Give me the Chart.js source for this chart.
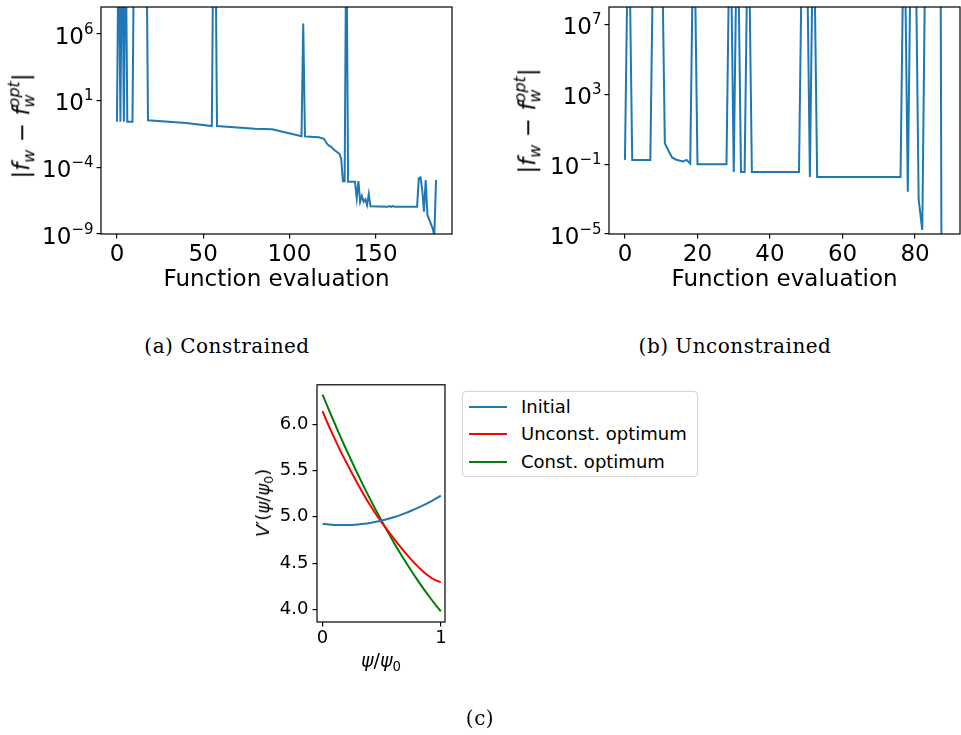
<!DOCTYPE html>
<html>
<head>
<meta charset="utf-8">
<script src="https://cdn.jsdelivr.net/npm/chart.js@4.4.1/dist/chart.umd.min.js"></script>
<style>
  body { margin: 0; width: 961px; height: 735px; background: #fff; position: relative; overflow: hidden;
         font-family: 'DejaVu Sans', sans-serif; color: #000; }
  canvas { position: absolute; }
  .cap { position: absolute; font-family: 'DejaVu Serif', serif; font-size: 20px; letter-spacing: 0.5px;
         white-space: nowrap; transform: translate(-50%, -50%); }
  .lab { position: absolute; white-space: nowrap; transform: translate(-50%, -50%); line-height: 1; }
  .rot { transform: translate(-50%, -50%) rotate(-90deg); }
  .lab i { font-style: oblique; }
  .lo { font-size: 0.7em; vertical-align: -0.35em; }
  .hi { font-size: 0.7em; vertical-align: 0.6em; margin-left: -0.82em; }
  #legend { position: absolute; left: 462px; top: 391px; width: 236px; height: 86px; box-sizing: border-box;
            border: 1px solid #d4d4d4; border-radius: 4px; background: #fff; }
  #legend .row { position: absolute; left: 0; height: 22px; line-height: 22px; font-size: 18px; white-space: nowrap; }
  #legend .sw { position: absolute; left: 6px; top: 10px; width: 38px; height: 2px; }
  #legend .tx { position: absolute; left: 58px; top: 0; }
</style>
</head>
<body>
<canvas id="cA" width="470" height="300" style="left:0;top:0"></canvas>
<canvas id="cB" width="481" height="300" style="left:480px;top:0"></canvas>
<canvas id="cC" width="210" height="290" style="left:250px;top:370px"></canvas>

<div class="lab rot" style="left:22px;top:126px;font-size:23px">|<i>f</i><span class="lo"><i>w</i></span> − <i>f</i><span class="lo"><i>w</i></span><span class="hi"><i>opt</i></span>|</div>
<div class="lab rot" style="left:528px;top:121px;font-size:23px">|<i>f</i><span class="lo"><i>w</i></span> − <i>f</i><span class="lo"><i>w</i></span><span class="hi"><i>opt</i></span>|</div>
<div class="lab rot" style="left:265px;top:503px;font-size:18px"><i>V</i>′(<i>ψ</i>/<i>ψ</i><span class="lo">0</span>)</div>
<div class="lab" style="left:381px;top:662px;font-size:19px"><i>ψ</i>/<i>ψ</i><span class="lo">0</span></div>

<div class="cap" style="left:227px;top:346px">(a) Constrained</div>
<div class="cap" style="left:735px;top:346px">(b) Unconstrained</div>
<div class="cap" style="left:480px;top:718px">(c)</div>

<div id="legend"></div>

<script>
// (a) constrained run: evaluation index and error at each vertex of the trace
const evalsA = [0, 1, 2, 3, 4, 5, 6, 9, 10, 17, 18, 40, 55, 56, 57, 58, 80, 90, 107, 108, 109, 112, 117, 120,
                122, 123, 124, 126, 128, 129, 130, 131, 132, 133, 134, 138, 139, 140, 141, 142, 143, 144, 145,
                146, 147, 157, 158, 159, 160, 161, 174, 175, 176, 177, 178, 179, 180, 183, 184, 185];
const errA = [0.26, 1e15, 0.26, 1e15, 0.26, 1e15, 0.26, 0.26, 1e15, 1e15, 0.34, 0.21, 0.125, 1e15, 1e15, 0.125,
              0.08, 0.071, 0.022, 6.3e6, 0.021, 0.02, 0.018, 0.014,
              0.0055, 0.0042, 0.0036, 0.002, 0.0013, 0.001, 4.5e-4, 9e-6, 9e-6, 1e15, 8.5e-6, 8.5e-6, 4.8e-7, 9.3e-6,
              2.6e-7, 7e-7, 2.6e-7, 4e-7, 1.5e-7,
              1e-6, 1.2e-7, 1.1e-7, 1.25e-7, 1.1e-7, 1.25e-7, 1.1e-7, 1.1e-7, 1.5e-5, 1.8e-5, 2e-6, 4.7e-8, 1.1e-5,
              2.7e-8, 2.7e-9, 8e-10, 1.1e-5];

// (b) unconstrained run
const evalsB = [0, 1, 2, 7, 8, 10, 11, 12, 13, 14, 15, 16, 17, 18, 19, 20, 28, 29, 30, 31, 32, 33, 34, 35, 48,
                49, 50, 51, 52, 53, 76, 77, 78, 79, 80, 81, 82, 83, 87, 88];
const errB = [0.18, 1e15, 0.18, 0.18, 1e15, 1e15, 1.6, 0.6, 0.25, 0.19, 0.166, 0.148, 0.18, 0.11, 1e15, 0.1,
              0.1, 1e15, 0.036, 1e15, 0.036, 0.036, 1e15, 0.036, 0.036,
              1e15, 1e15, 0.019, 1e15, 0.019, 0.019, 1e15, 0.0027, 1e15, 1e15, 9e-4, 1.7e-5, 1e15, 1e15, 1e-60];

// (c) potential derivative profiles
const psi = [0, 0.05, 0.1, 0.15, 0.2, 0.25, 0.3, 0.35, 0.4, 0.45, 0.5, 0.55, 0.6, 0.65, 0.7, 0.75, 0.8, 0.85, 0.9, 0.95, 1];
const vInitial = [4.925, 4.918, 4.913, 4.911, 4.911, 4.913, 4.918, 4.925, 4.934, 4.946, 4.960, 4.976, 4.995, 5.016,
                  5.040, 5.066, 5.094, 5.124, 5.157, 5.192, 5.229];
const vUnconst = [6.142, 5.99, 5.85, 5.715, 5.59, 5.467, 5.35, 5.237, 5.13, 5.03, 4.94, 4.853, 4.77, 4.688,
                  4.61, 4.538, 4.47, 4.41, 4.358, 4.318, 4.295];
const vConst = [6.320, 6.166, 6.016, 5.870, 5.727, 5.589, 5.454, 5.324, 5.197, 5.074, 4.955, 4.840, 4.729, 4.621,
                4.518, 4.418, 4.322, 4.230, 4.142, 4.058, 3.978];
const seriesNames = ['Initial', 'Unconst. optimum', 'Const. optimum'];

const ticksA = [0, 50, 100, 150];
const decadesA = [1e-9, 1e-4, 1e1, 1e6];
const ticksB = [0, 20, 40, 60, 80];
const decadesB = [1e-5, 1e-1, 1e3, 1e7];
const ticksCx = [0, 1];
const ticksCy = [4.0, 4.5, 5.0, 5.5, 6.0];

const BLUE = '#1f77b4';
const FONT = "'DejaVu Sans', sans-serif";

Chart.defaults.font.family = FONT;
Chart.defaults.color = '#000';

// full box around the plot area, like matplotlib spines
const frame = {
    id: 'frame',
    afterDatasetsDraw(chart) {
        const { ctx, chartArea: a } = chart;
        ctx.save();
        ctx.strokeStyle = '#000';
        ctx.lineWidth = 1.2;
        ctx.strokeRect(a.left, a.top, a.right - a.left, a.bottom - a.top);
        ctx.restore();
    }
};

// log-axis labels as 10 with a raised exponent
const powerLabels = {
    id: 'powerLabels',
    afterDraw(chart) {
        const s = chart.scales.y;
        if (s.type !== 'logarithmic') return;
        const ctx = chart.ctx;
        ctx.save();
        ctx.fillStyle = '#000';
        ctx.textAlign = 'left';
        ctx.textBaseline = 'alphabetic';
        const right = s.right - 4.5 - 3;
        s.ticks.forEach(t => {
            const y = s.getPixelForValue(t.value);
            const exp = String(Math.round(Math.log10(t.value))).replace('-', '−');
            ctx.font = '15px ' + FONT;
            const ew = ctx.measureText(exp).width;
            ctx.font = '23px ' + FONT;
            const bw = ctx.measureText('10').width;
            const base = y + 9.5;
            ctx.fillText('10', right - ew - bw, base);
            ctx.font = '15px ' + FONT;
            ctx.fillText(exp, right - ew, base - 10);
        });
        ctx.restore();
    }
};

const tickMarks = { display: true, drawOnChartArea: false, drawTicks: true, tickLength: 4.5, color: '#000', lineWidth: 1.2 };

function panelOptions(o) {
    return {
        responsive: false, animation: false, events: [],
        layout: { padding: o.pad },
        plugins: { legend: { display: false }, tooltip: { enabled: false } },
        scales: {
            x: {
                type: 'linear', min: o.xmin, max: o.xmax,
                afterBuildTicks: s => { s.ticks = o.xticks.map(v => ({ value: v })); },
                afterFit: s => { s.height = o.xHeight; },
                grid: tickMarks, border: { display: false },
                ticks: { font: { size: o.font }, padding: o.xPad, maxRotation: 0, autoSkip: false, callback: o.xfmt },
                title: o.xtitle
                    ? { display: true, text: o.xtitle, font: { size: 23 }, padding: { top: 0, bottom: o.titlePad } }
                    : { display: false }
            },
            y: {
                type: o.ytype, min: o.ymin, max: o.ymax,
                afterBuildTicks: s => { s.ticks = o.yticks.map(v => ({ value: v })); },
                afterFit: s => { s.width = o.yWidth; },
                grid: tickMarks, border: { display: false },
                ticks: { display: o.ytype !== 'logarithmic', font: { size: o.font }, padding: o.yPad,
                         autoSkip: false, callback: o.yfmt }
            }
        }
    };
}

const traceStyle = { borderColor: BLUE, borderWidth: 2, pointRadius: 0, tension: 0, fill: false, clip: 0 };

new Chart(document.getElementById('cA'), {
    type: 'line',
    data: { datasets: [{ ...traceStyle, data: evalsA.map((x, i) => ({ x, y: errA[i] })) }] },
    options: panelOptions({
        xmin: -9.25, xmax: 194.25, xticks: ticksA, xfmt: v => String(v),
        ytype: 'logarithmic', ymin: 1e-9, ymax: 1.08e8, yticks: decadesA,
        yWidth: 101, xHeight: 66, pad: { top: 7, right: 18, left: 0, bottom: 0 },
        font: 23, xPad: 3, yPad: 3, xtitle: 'Function evaluation', titlePad: 6
    }),
    plugins: [frame, powerLabels]
});

new Chart(document.getElementById('cB'), {
    type: 'line',
    data: { datasets: [{ ...traceStyle, data: evalsB.map((x, i) => ({ x, y: errB[i] })) }] },
    options: panelOptions({
        xmin: -4.4, xmax: 92.4, xticks: ticksB, xfmt: v => String(v),
        ytype: 'logarithmic', ymin: 1e-5, ymax: 1.08e8, yticks: decadesB,
        yWidth: 129, xHeight: 66, pad: { top: 7, right: 1, left: 0, bottom: 0 },
        font: 23, xPad: 3, yPad: 3, xtitle: 'Function evaluation', titlePad: 6
    }),
    plugins: [frame, powerLabels]
});

const profileColors = [BLUE, '#ff0000', '#008000'];
const profiles = [vInitial, vUnconst, vConst];
const chartC = new Chart(document.getElementById('cC'), {
    type: 'line',
    data: {
        datasets: profiles.map((vals, k) => ({
            label: seriesNames[k], borderColor: profileColors[k], borderWidth: 2, pointRadius: 0,
            cubicInterpolationMode: 'monotone', fill: false, clip: 0,
            data: psi.map((x, i) => ({ x, y: vals[i] }))
        }))
    },
    options: panelOptions({
        xmin: -0.047, xmax: 1.035, xticks: ticksCx, xfmt: v => String(v),
        ytype: 'linear', ymin: 3.864, ymax: 6.426, yticks: ticksCy, yfmt: v => v.toFixed(1),
        yWidth: 67, xHeight: 38, pad: { top: 12, right: 15, left: 0, bottom: 0 },
        font: 18, xPad: 1, yPad: 4
    }),
    plugins: [frame]
});

// legend built from the profile datasets
const legend = document.getElementById('legend');
chartC.data.datasets.forEach((ds, k) => {
    const row = document.createElement('div');
    row.className = 'row';
    row.style.top = (4 + k * 27.3) + 'px';
    row.style.width = '100%';
    row.innerHTML = `<div class="sw" style="background:${ds.borderColor}"></div><div class="tx">${ds.label}</div>`;
    legend.appendChild(row);
});
</script>
</body>
</html>
